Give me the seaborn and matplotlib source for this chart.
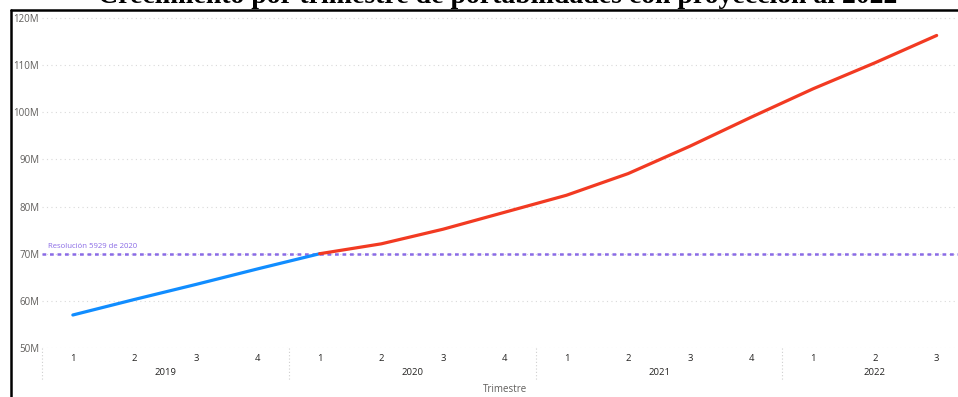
import matplotlib
matplotlib.use("Agg")
import matplotlib.pyplot as plt
import numpy as np
import pandas as pd
import seaborn as sns
from matplotlib.ticker import FuncFormatter

# quarters shown on the axis
years = [2019] * 4 + [2020] * 4 + [2021] * 4 + [2022] * 3
quarters = [1, 2, 3, 4, 1, 2, 3, 4, 1, 2, 3, 4, 1, 2, 3]

# observed series (2019Q1 .. 2020Q1)
real_values = [57.0e6, 60.3e6, 63.5e6, 66.8e6, 70.0e6]
# projected series (2020Q1 .. 2022Q3)
proj_values = [70.0e6, 72.1e6, 75.2e6, 78.8e6, 82.4e6, 87.0e6, 92.8e6,
               99.0e6, 105.0e6, 110.5e6, 116.3e6]

REF_VALUE = 70e6
REF_LABEL = "Resolución 5929 de 2020"
TITLE = "Crecimiento por trimestre de portabilidades con proyección al 2022"
X_TITLE = "Trimestre"

BLUE = "#118DFF"
RED = "#F23A22"
PURPLE = "#8A6BE6"
GREY = "#605E5C"

idx = np.arange(len(quarters))
df = pd.concat([
    pd.DataFrame({"x": idx[:len(real_values)], "valor": real_values, "serie": "Real"}),
    pd.DataFrame({"x": idx[4:4 + len(proj_values)], "valor": proj_values, "serie": "Proyección"}),
])

sns.set_theme(style="white")
plt.rcParams["font.family"] = ["Open Sans", "DejaVu Sans"]

W, H = 958, 397
fig = plt.figure(figsize=(W / 100, H / 100), dpi=100)

left_px, right_px, top_px, bottom_px = 42, 958, 12, 348
ax = fig.add_axes([left_px / W, 1 - bottom_px / H,
                   (right_px - left_px) / W, (bottom_px - top_px) / H])

step = 61.7
ax.set_xlim(-0.5, -0.5 + (right_px - left_px) / step)
ax.set_ylim(50e6, 120e6 + 6 / 4.7 * 1e6)

sns.lineplot(data=df, x="x", y="valor", hue="serie",
             palette={"Real": BLUE, "Proyección": RED},
             linewidth=2.3, legend=False, ax=ax, zorder=3)

# horizontal dotted grid
ax.set_yticks(np.arange(50e6, 121e6, 10e6))
ax.yaxis.set_major_formatter(FuncFormatter(lambda v, p: f"{v / 1e6:.0f}M"))
for v in ax.get_yticks():
    ax.axhline(v, color="#D9D9D9", lw=0.8, ls=(0, (1, 3)), zorder=1)

# reference line
ax.axhline(REF_VALUE, color=PURPLE, lw=1.8, ls=(0, (1.5, 1.5)), zorder=2)
ax.text(0.007, REF_VALUE + 0.7e6, REF_LABEL, color=PURPLE, fontsize=5.6,
        transform=ax.get_yaxis_transform(), va="bottom", ha="left")

for s in ax.spines.values():
    s.set_visible(False)

ax.set_xticks(idx)
ax.set_xticklabels([str(q) for q in quarters])
ax.tick_params(axis="x", length=0, pad=4, labelsize=6.8, labelcolor="#252423")
ax.tick_params(axis="y", length=0, pad=2, labelsize=7, labelcolor=GREY)
ax.set_xlabel("")
ax.set_ylabel("")

# year groups
xtr = ax.get_xaxis_transform()
year_list = sorted(set(years))
bounds = [-0.5]
for y in year_list:
    n = years.count(y)
    start = bounds[-1]
    bounds.append(start + n)
    ax.text(start + n / 2 if n == 4 else start + 1.5, -0.072, str(y), transform=xtr,
            ha="center", va="center", fontsize=6.8, color="#252423")
for b in bounds[:-1] + [bounds[-1] + 1]:
    ax.plot([b, b], [0, -0.095], transform=xtr, color="#CFCFCF", lw=0.8,
            ls=(0, (1, 2)), clip_on=False)

ax.text(7.0, -0.125, X_TITLE, transform=xtr, ha="center", va="center",
        fontsize=7, color=GREY)

# outer frame (top and left visible)
fig.add_artist(plt.Line2D([11 / W, 1], [1 - 10 / H, 1 - 10 / H], color="black",
                          lw=1.8, transform=fig.transFigure))
fig.add_artist(plt.Line2D([11 / W, 11 / W], [1 - 10 / H, 0], color="black",
                          lw=1.8, transform=fig.transFigure))

# title, cut by the top edge as in the screenshot
fig.text(0.52, 1 - 3 / H, TITLE, ha="center", va="baseline", fontsize=20,
         fontweight="bold", family=["Liberation Serif"], color="black")

fig.savefig("out.png", dpi=100)
